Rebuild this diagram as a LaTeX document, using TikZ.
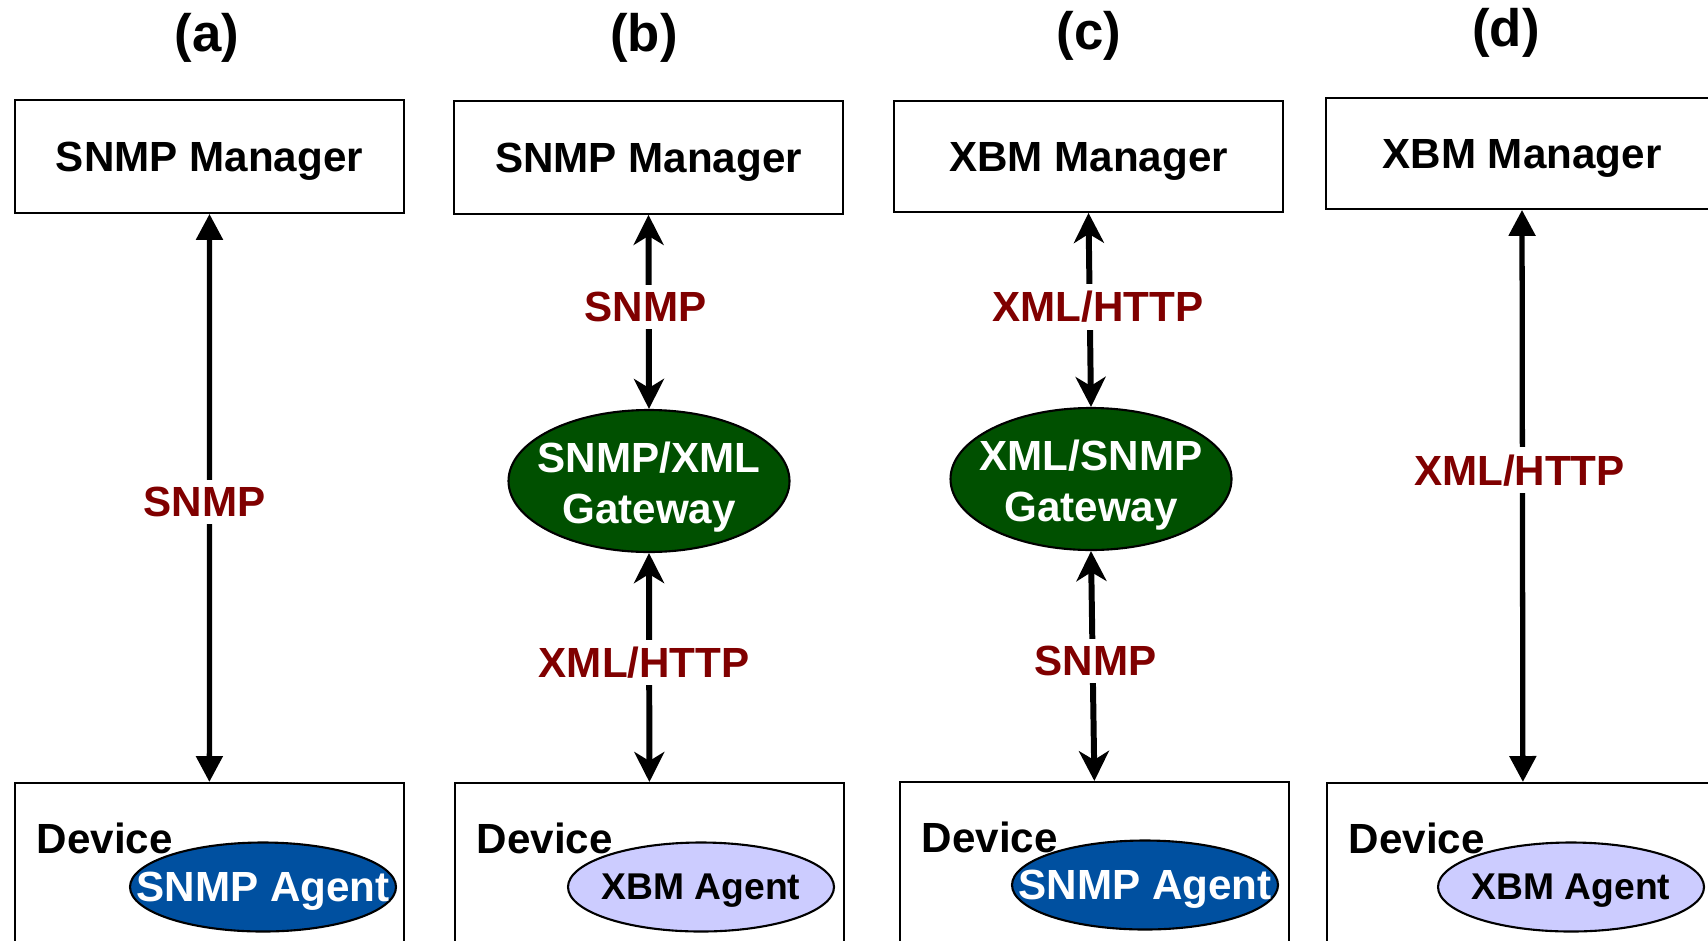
\documentclass[tikz,border=0pt]{standalone}
\usepackage{fontspec}
\setmainfont{Liberation Sans}
\usetikzlibrary{calc,shapes.geometric,arrows.meta}
\definecolor{snmpblue}{RGB}{0,80,160}
\definecolor{xbmlilac}{RGB}{204,204,255}
\definecolor{gwgreen}{RGB}{0,80,0}
\definecolor{protored}{RGB}{128,0,0}
\tikzset{
	mgr/.style={draw, line width=0.5pt, minimum width=3.89cm, minimum height=1.13cm, text depth=0pt},
	devbox/.style={draw, line width=0.5pt, minimum width=3.89cm, minimum height=2.4cm, anchor=north west},
	devtext/.style={anchor=base west, inner sep=0pt},
	agent/.style={ellipse, draw, line width=0.6pt, minimum width=2.66cm, minimum height=0.89cm, inner sep=0pt},
	agtext/.style={text depth=0pt},
	xbmtext/.style={text depth=0pt, font=\fontsize{10.6}{13}\selectfont\bfseries},
	gw/.style={ellipse, draw, line width=0.6pt, fill=gwgreen, minimum width=2.81cm, minimum height=1.42cm, inner sep=0pt},
	gwtext/.style={text=white, align=center, yshift=-0.65mm},
	proto/.style={text=protored, fill=white, inner sep=2pt},
	tag/.style={font=\fontsize{15}{18}\selectfont\bfseries},
	direct/.style={{Triangle[length=2.6mm,width=2.6mm]}-{Triangle[length=2.6mm,width=2.6mm]}, line width=1.5pt},
	viagw/.style={{Stealth[length=3mm,width=3mm,inset=0.9mm]}-{Stealth[length=3mm,width=3mm,inset=0.9mm]}, line width=1.7pt}
}
\begin{document}
\begin{tikzpicture}[x=0.1mm, y=-0.1mm, font=\fontsize{12}{14.5}\selectfont\bfseries]
				%%%%% START %%%%%
				\def\devtop{782}
				\def\devdx{22}
				\def\devdy{71}
				\def\agdy{105}
				\useasboundingbox (0,0) rectangle (1708,940);

				% (a)
				\node[tag] (capA) at (207,38) {(a)};
				\node[mgr] (mgrA) at (209.5,156.5) {SNMP Manager};
				\node[devbox] (devA) at (14,\devtop) {};
				\node[agent, fill=snmpblue, label={[agtext, text=white]center:SNMP Agent}] (agA) at ($(devA.north west)+(249,\agdy)$) {};
				\node[devtext] (devtxtA) at ($(devA.north west)+(\devdx,\devdy)$) {Device};
				\draw[direct] (mgrA.south) -- node[proto, pos=0.507, xshift=-0.5mm] (protoA) {SNMP} (devA.north);

				% (b)
				\node[tag] (capB) at (644,38) {(b)};
				\node[mgr] (mgrB) at (648.5,157.5) {SNMP Manager};
				\node[gw, label={[gwtext]center:{SNMP/XML\\Gateway}}] (gwB) at (649,481) {};
				\node[devbox] (devB) at (454,\devtop) {};
				\node[agent, fill=xbmlilac, label={[xbmtext]center:XBM Agent}] (agB) at ($(devB.north west)+(247,\agdy)$) {};
				\node[devtext] (devtxtB) at ($(devB.north west)+(\devdx,\devdy)$) {Device};
				\draw[viagw] (mgrB.south) -- node[proto, pos=0.474, xshift=-0.3mm] (protoB1) {SNMP} (gwB.north);
				\draw[viagw] (gwB.south) -- node[proto, pos=0.478, xshift=-0.5mm] (protoB2) {XML/HTTP} (devB.north);

				% (c)
				\node[tag] (capC) at (1089,36) {(c)};
				\node[mgr, minimum height=1.11cm] (mgrC) at (1088.5,156.5) {XBM Manager};
				\node[gw, label={[gwtext]center:{XML/SNMP\\Gateway}}] (gwC) at (1091,479) {};
				\node[devbox] (devC) at (899,781) {};
				\node[agent, fill=snmpblue, label={[agtext, text=white]center:SNMP Agent}] (agC) at ($(devC.north west)+(246,104)$) {};
				\node[devtext] (devtxtC) at ($(devC.north west)+(\devdx,\devdy)$) {Device};
				\draw[viagw] (mgrC.south) -- node[proto, pos=0.485, xshift=0.8mm] (protoC1) {XML/HTTP} (gwC.north);
				\draw[viagw] (gwC.south) -- node[proto, pos=0.48, xshift=0.3mm] (protoC2) {SNMP} (devC.north);

				% (d)
				\node[tag] (capD) at (1506,33) {(d)};
				\node[mgr, minimum width=3.92cm, minimum height=1.11cm] (mgrD) at (1522,153.5) {XBM Manager};
				\node[devbox, minimum width=3.92cm] (devD) at (1326,\devtop) {};
				\node[agent, fill=xbmlilac, label={[xbmtext]center:XBM Agent}] (agD) at ($(devD.north west)+(245,\agdy)$) {};
				\node[devtext] (devtxtD) at ($(devD.north west)+(\devdx,\devdy)$) {Device};
				\draw[direct] (mgrD.south) -- node[proto, pos=0.455, xshift=-0.3mm] (protoD) {XML/HTTP} (devD.north);
				%%%%% START %%%%%
\end{tikzpicture}
\end{document}
